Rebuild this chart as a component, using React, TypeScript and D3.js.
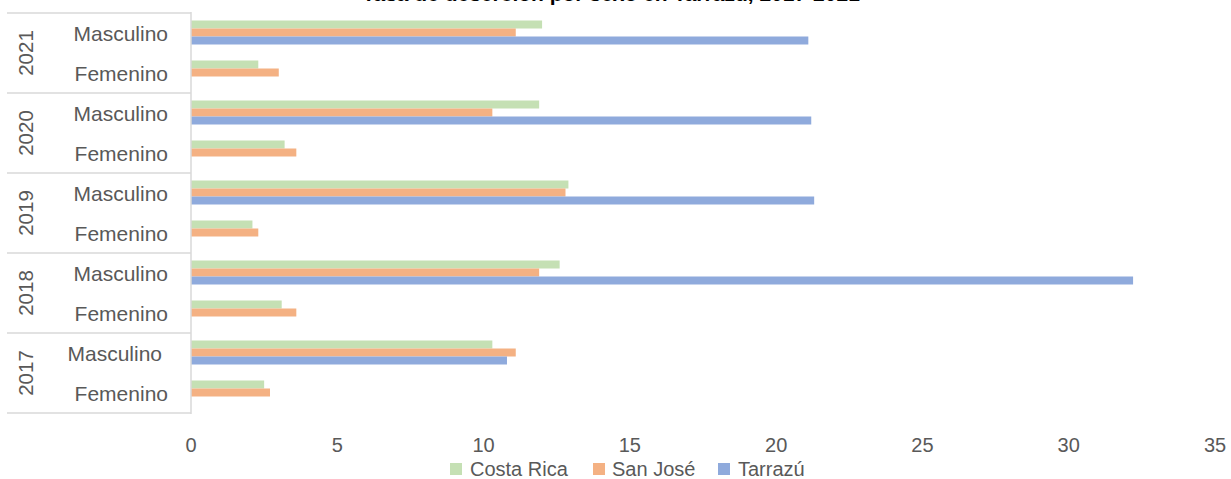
import React from "react";
import * as d3 from "d3";

const years = ["2021", "2020", "2019", "2018", "2017"];
const sexes = ["Masculino", "Femenino"];
const series = ["Costa Rica", "San José", "Tarrazú"];
const colors = ["#C5E0B4", "#F4B183", "#8FAADC"];
// values per year (same order as years), Masculino then Femenino
const costaRica = [[12.0, 2.3], [11.9, 3.2], [12.9, 2.1], [12.6, 3.1], [10.3, 2.5]];
const sanJose = [[11.1, 3.0], [10.3, 3.6], [12.8, 2.3], [11.9, 3.6], [11.1, 2.7]];
const tarrazu = [[21.1, 0], [21.2, 0], [21.3, 0], [32.2, 0], [10.8, 0]];
const xTicks = [0, 5, 10, 15, 20, 25, 30, 35];
const title = "Tasa de deserción por sexo en Tarrazú, 2017-2021";

const W = 1231;
const H = 479;
const left = 191;
const right = 1215;
const top = 13;
const bottom = 413;
const FONT = "'Liberation Sans', Arial, sans-serif";
const TXT = "#595959";
const GRID = "#D9D9D9";

export default function App() {
  const x = d3.scaleLinear().domain([0, 35]).range([left, right]);
  const rows = years.flatMap((y) => sexes.map((s) => `${y}|${s}`));
  const yRow = d3.scaleBand().domain(rows).range([top, bottom]).paddingInner(0).paddingOuter(0);
  const yYear = d3.scaleBand().domain(years).range([top, bottom]);
  const bw = yRow.bandwidth();
  const ySer = d3.scaleBand().domain(series).range([bw * 0.2, bw * 0.8]);
  const allVals = [costaRica, sanJose, tarrazu];

  const bars: JSX.Element[] = [];
  years.forEach((yr, yi) => {
    sexes.forEach((sx, si) => {
      series.forEach((se, k) => {
        const v = allVals[k][yi][si];
        if (!v) return;
        bars.push(
          <rect
            key={`${yr}-${sx}-${se}`}
            x={x(0)}
            y={(yRow(`${yr}|${sx}`) as number) + (ySer(se) as number) - 0.5}
            width={x(v) - x(0)}
            height={ySer.bandwidth()}
            fill={colors[k]}
          />
        );
      });
    });
  });

  const legendItems = [
    { name: series[0], sx: 450, tx: 470 },
    { name: series[1], sx: 593, tx: 612 },
    { name: series[2], sx: 718, tx: 738 },
  ];

  return (
    <svg
      width={W}
      height={H}
      style={{ position: "absolute", left: 0, top: 0, background: "#fff" }}
      fontFamily={FONT}
    >
      <rect x={0} y={0} width={W} height={H} fill="#fff" />
      <text x={611} y={0.5} textAnchor="middle" fontSize={21} fontWeight="bold" fill="#000">
        {title}
      </text>
      {bars}
      {/* axis line */}
      <line x1={left} x2={left} y1={top - 1} y2={bottom + 1} stroke={GRID} strokeWidth={1.5} />
      {/* year dividers */}
      {[...years.map((y) => yYear(y) as number), bottom].map((yy, i) => (
        <line key={i} x1={7} x2={left} y1={yy} y2={yy} stroke={GRID} strokeWidth={1.5} />
      ))}
      {/* year labels */}
      {years.map((yr) => {
        const cy = (yYear(yr) as number) + yYear.bandwidth() / 2;
        return (
          <text
            key={yr}
            transform={`translate(33,${cy}) rotate(-90)`}
            textAnchor="middle"
            fontSize={20.5}
            fill={TXT}
          >
            {yr}
          </text>
        );
      })}
      {/* sex labels */}
      {rows.map((r) => {
        const [yr, sx] = r.split("|");
        const cy = (yRow(r) as number) + bw / 2;
        const shift = yr === "2017" && sx === "Masculino" ? 6 : 0;
        return (
          <text key={r} x={168 - shift} y={cy + 8} textAnchor="end" fontSize={21} fill={TXT}>
            {sx}
          </text>
        );
      })}
      {/* x tick labels */}
      {xTicks.map((t) => (
        <text key={t} x={x(t)} y={452} textAnchor="middle" fontSize={20} fill={TXT}>
          {t}
        </text>
      ))}
      {/* legend */}
      {legendItems.map((it, i) => (
        <g key={it.name}>
          <rect x={it.sx} y={463} width={12} height={12} fill={colors[i]} />
          <text x={it.tx} y={476} fontSize={20} fill={TXT}>
            {it.name}
          </text>
        </g>
      ))}
    </svg>
  );
}
